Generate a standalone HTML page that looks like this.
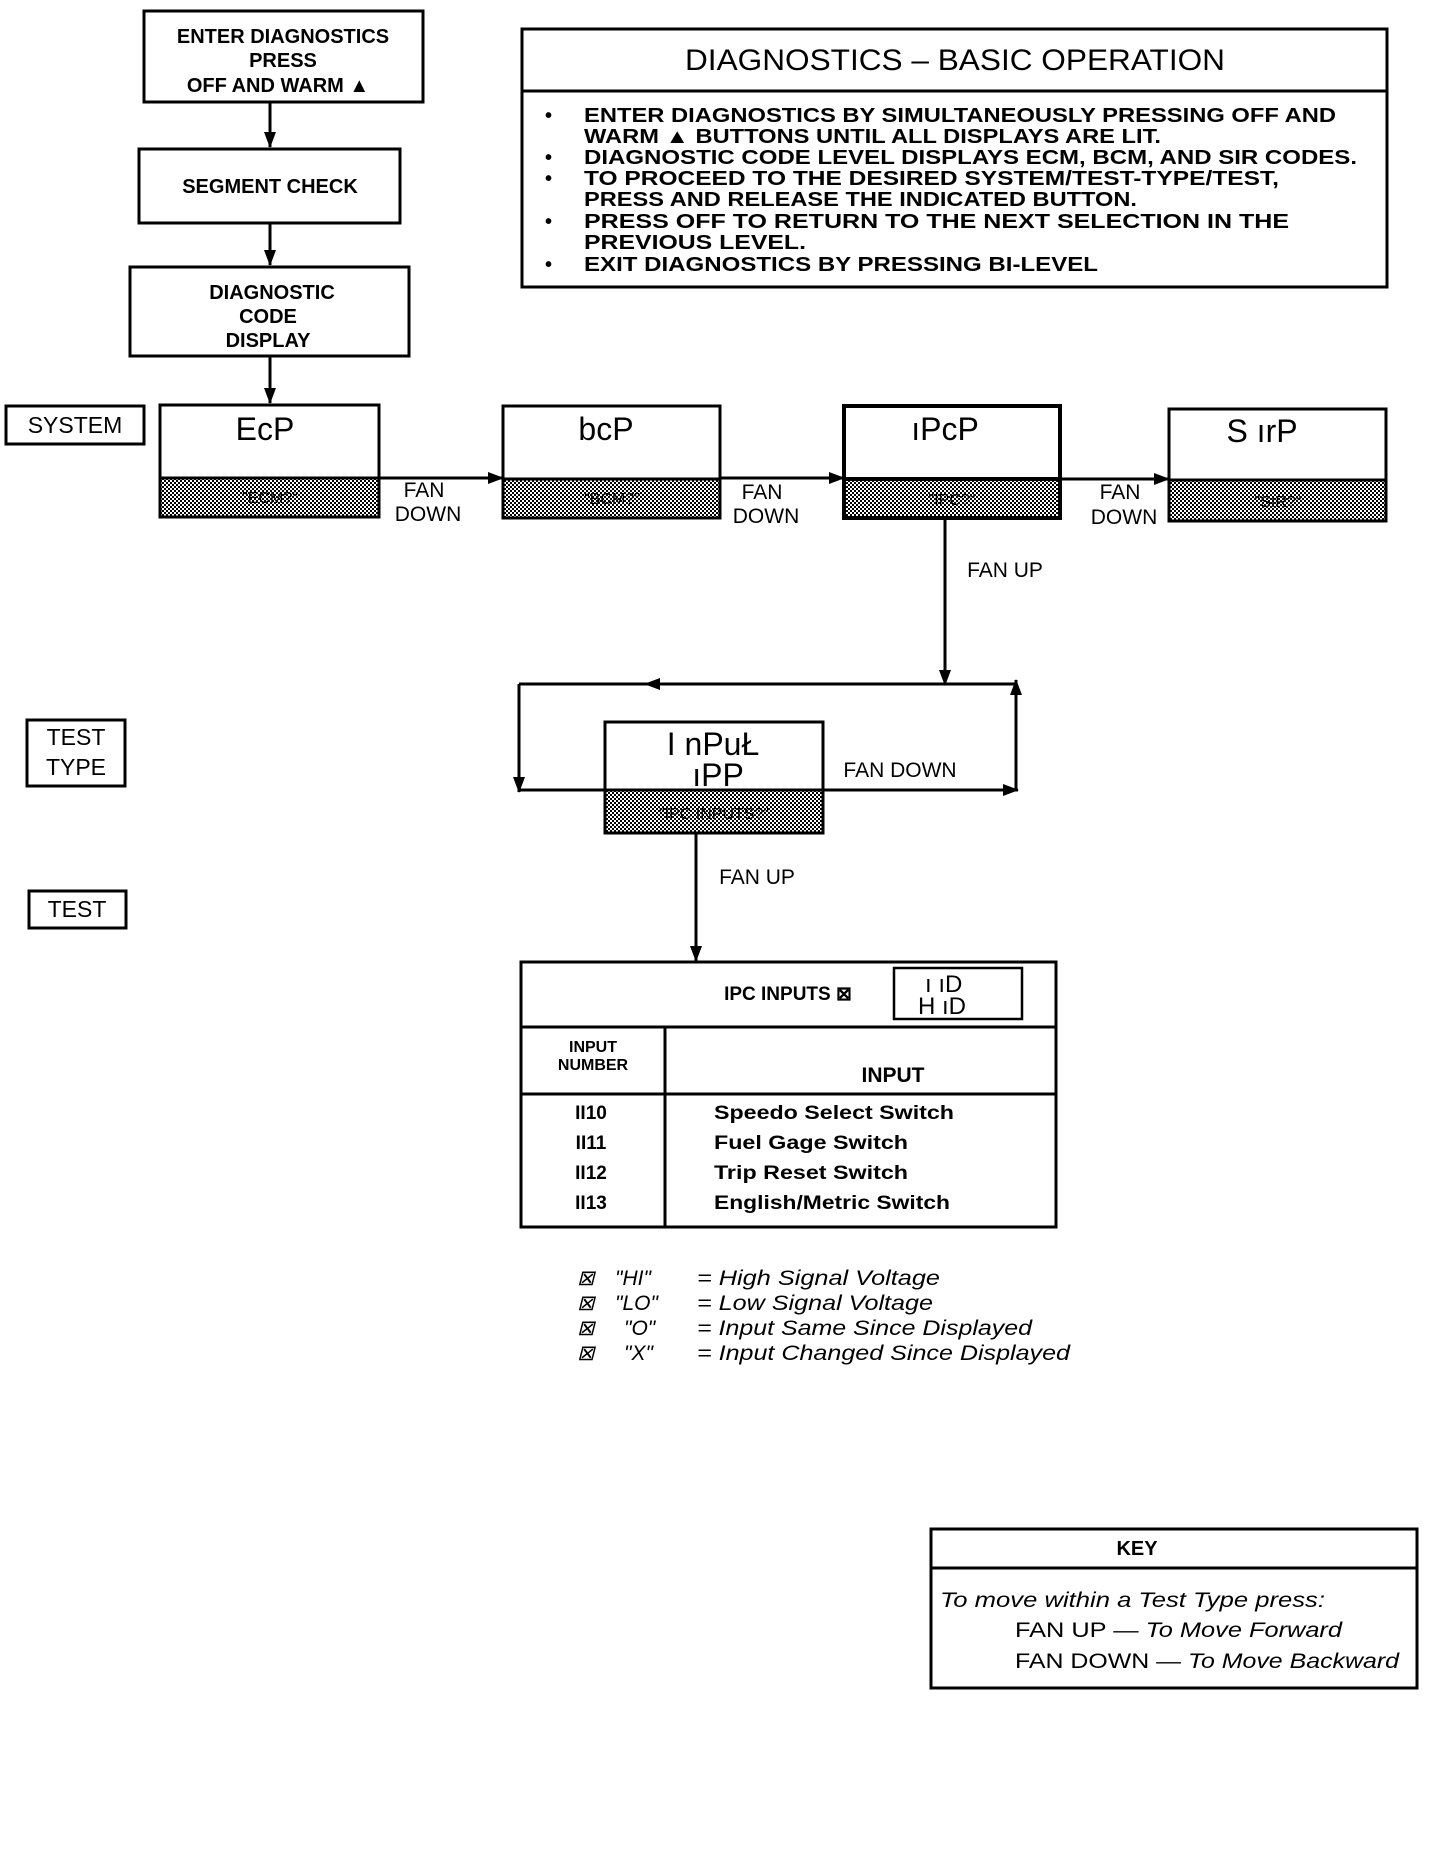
<!DOCTYPE html>
<html><head><meta charset="utf-8"><style>
html,body{margin:0;padding:0;background:#fff;}
svg{display:block;}
text{font-family:"Liberation Sans",sans-serif;fill:#000;}
.b{font-weight:bold;}
</style></head><body>
<svg width="1456" height="1860" viewBox="0 0 1456 1860" xmlns="http://www.w3.org/2000/svg">
<defs>
<pattern id="h" width="4" height="4" patternUnits="userSpaceOnUse">
<rect width="4" height="4" fill="#fff"/>
<rect width="2" height="2" fill="#000"/><rect x="2" y="2" width="2" height="2" fill="#000"/>
</pattern>
<marker id="a" markerWidth="16" markerHeight="12" refX="15" refY="6" orient="auto" markerUnits="userSpaceOnUse">
<path d="M0,0 L16,6 L0,12 z" fill="#000"/></marker>
</defs>
<g fill="none" stroke="#000" stroke-width="3">
<rect x="144" y="11" width="279" height="91"/>
<rect x="139" y="149" width="261" height="74"/>
<rect x="130" y="267" width="279" height="89"/>
<line x1="270" y1="102" x2="270" y2="147" marker-end="url(#a)"/>
<line x1="270" y1="223" x2="270" y2="265" marker-end="url(#a)"/>
<line x1="270" y1="356" x2="270" y2="403" marker-end="url(#a)"/>
<rect x="522" y="29" width="865" height="258"/>
<line x1="522" y1="91" x2="1387" y2="91"/>
<rect x="6" y="406" width="138" height="38"/>
<rect x="160" y="405" width="219" height="112"/>
<rect x="503" y="406" width="217" height="112"/>
<rect x="844" y="406" width="216" height="112" stroke-width="4"/>
<rect x="1169" y="409" width="217" height="112"/>
<line x1="379" y1="478" x2="503" y2="478" marker-end="url(#a)"/>
<line x1="720" y1="478" x2="844" y2="478" marker-end="url(#a)"/>
<line x1="1060" y1="479" x2="1169" y2="479" marker-end="url(#a)"/>
<line x1="945" y1="518" x2="945" y2="685" marker-end="url(#a)"/>
<line x1="1016" y1="684" x2="519" y2="684"/>
<line x1="700" y1="684" x2="645" y2="684" marker-end="url(#a)"/>
<line x1="519" y1="684" x2="519" y2="792" marker-end="url(#a)"/>
<line x1="519" y1="790" x2="1018" y2="790" marker-end="url(#a)"/>
<line x1="1016" y1="790" x2="1016" y2="680" marker-end="url(#a)"/>
<rect x="605" y="722" width="218" height="111"/>
<rect x="27" y="720" width="98" height="66"/>
<rect x="29" y="891" width="97" height="37"/>
<line x1="696" y1="833" x2="696" y2="961" marker-end="url(#a)"/>
<rect x="521" y="962" width="535" height="265"/>
<line x1="521" y1="1027" x2="1056" y2="1027"/>
<line x1="665" y1="1027" x2="665" y2="1227"/>
<line x1="521" y1="1094" x2="1056" y2="1094"/>
<rect x="894" y="968" width="128" height="51" stroke-width="2.5"/>
<rect x="931" y="1529" width="486" height="159"/>
<line x1="931" y1="1568" x2="1417" y2="1568"/>
</g>
<g stroke="#000" stroke-width="3" fill="url(#h)">
<rect x="160" y="478" width="219" height="39"/>
<rect x="503" y="479" width="217" height="39"/>
<rect x="844" y="479" width="216" height="39" stroke-width="4"/>
<rect x="1169" y="480" width="217" height="41"/>
<rect x="605" y="790" width="218" height="43"/>
</g>
<g font-size="16" text-anchor="middle" fill="#333">
<text x="270" y="503">"ECM?"</text><text x="612" y="504">"BCM?"</text>
<text x="952" y="505">"IPC?"</text><text x="1278" y="507">"SIR?"</text>
<text x="714" y="819">"IPC INPUTS?"</text>
</g>
<g class="b" font-size="20" text-anchor="middle">
<text x="283" y="43">ENTER DIAGNOSTICS</text>
<text x="283" y="67">PRESS</text>
<text x="278" y="92">OFF AND WARM ▲</text>
<text x="270" y="193">SEGMENT CHECK</text>
<text x="272" y="299">DIAGNOSTIC</text>
<text x="268" y="323">CODE</text>
<text x="268" y="347">DISPLAY</text>
</g>
<text x="955" y="70" font-size="30" text-anchor="middle" textLength="540" lengthAdjust="spacingAndGlyphs">DIAGNOSTICS – BASIC OPERATION</text>
<g class="b" font-size="20" lengthAdjust="spacingAndGlyphs">
<text x="545" y="122">•</text><text x="584" y="122" textLength="752" lengthAdjust="spacingAndGlyphs">ENTER DIAGNOSTICS BY SIMULTANEOUSLY PRESSING OFF AND</text>
<text x="584" y="143" textLength="577" lengthAdjust="spacingAndGlyphs">WARM ▲ BUTTONS UNTIL ALL DISPLAYS ARE LIT.</text>
<text x="545" y="164">•</text><text x="584" y="164" textLength="773" lengthAdjust="spacingAndGlyphs">DIAGNOSTIC CODE LEVEL DISPLAYS ECM, BCM, AND SIR CODES.</text>
<text x="545" y="185">•</text><text x="584" y="185" textLength="695" lengthAdjust="spacingAndGlyphs">TO PROCEED TO THE DESIRED SYSTEM/TEST-TYPE/TEST,</text>
<text x="584" y="206" textLength="553" lengthAdjust="spacingAndGlyphs">PRESS AND RELEASE THE INDICATED BUTTON.</text>
<text x="545" y="228">•</text><text x="584" y="228" textLength="705" lengthAdjust="spacingAndGlyphs">PRESS OFF TO RETURN TO THE NEXT SELECTION IN THE</text>
<text x="584" y="249" textLength="222" lengthAdjust="spacingAndGlyphs">PREVIOUS LEVEL.</text>
<text x="545" y="271">•</text><text x="584" y="271" textLength="514" lengthAdjust="spacingAndGlyphs">EXIT DIAGNOSTICS BY PRESSING BI-LEVEL</text>
</g>
<g font-size="23" text-anchor="middle">
<text x="75" y="433">SYSTEM</text>
<text x="76" y="745">TEST</text><text x="76" y="775">TYPE</text>
<text x="77" y="917">TEST</text>
</g>
<g font-size="32" text-anchor="middle" font-family="Liberation Sans Narrow, Liberation Sans" font-weight="normal">
<text x="265" y="440">EcP</text><text x="606" y="440">bcP</text>
<text x="945" y="440">ıPcP</text><text x="1262" y="442">S ırP</text>
<text x="713" y="755">I nPuŁ</text><text x="718" y="786">ıPP</text>
</g>
<g font-size="21" text-anchor="middle">
<text x="424" y="497">FAN</text><text x="428" y="521">DOWN</text>
<text x="762" y="499">FAN</text><text x="766" y="523">DOWN</text>
<text x="1120" y="499">FAN</text><text x="1124" y="524">DOWN</text>
<text x="1005" y="577">FAN UP</text>
<text x="900" y="777">FAN DOWN</text>
<text x="757" y="884">FAN UP</text>
</g>
<g class="b" font-size="19">
<text x="788" y="1000" text-anchor="middle">IPC INPUTS ⊠</text>
<text x="593" y="1052" text-anchor="middle" font-size="16">INPUT</text>
<text x="593" y="1070" text-anchor="middle" font-size="16">NUMBER</text>
<text x="893" y="1082" text-anchor="middle" font-size="21">INPUT</text>
<text x="591" y="1119" text-anchor="middle">II10</text>
<text x="591" y="1149" text-anchor="middle">II11</text>
<text x="591" y="1179" text-anchor="middle">II12</text>
<text x="591" y="1209" text-anchor="middle">II13</text>
<text x="714" y="1119" textLength="240" lengthAdjust="spacingAndGlyphs">Speedo Select Switch</text>
<text x="714" y="1149" textLength="194" lengthAdjust="spacingAndGlyphs">Fuel Gage Switch</text>
<text x="714" y="1179" textLength="194" lengthAdjust="spacingAndGlyphs">Trip Reset Switch</text>
<text x="714" y="1209" textLength="236" lengthAdjust="spacingAndGlyphs">English/Metric Switch</text>
</g>
<g font-family="Liberation Mono" font-size="24">
<text x="925" y="992">ı ıD</text><text x="918" y="1014">H ıD</text>
</g>
<g font-size="21" font-style="italic">
<text x="577" y="1285">⊠</text><text x="615" y="1285">"HI"</text><text x="697" y="1285" textLength="243" lengthAdjust="spacingAndGlyphs">= High Signal Voltage</text>
<text x="577" y="1310">⊠</text><text x="615" y="1310">"LO"</text><text x="697" y="1310" textLength="236" lengthAdjust="spacingAndGlyphs">= Low Signal Voltage</text>
<text x="577" y="1335">⊠</text><text x="624" y="1335">"O"</text><text x="697" y="1335" textLength="335" lengthAdjust="spacingAndGlyphs">= Input Same Since Displayed</text>
<text x="577" y="1360">⊠</text><text x="624" y="1360">"X"</text><text x="697" y="1360" textLength="373" lengthAdjust="spacingAndGlyphs">= Input Changed Since Displayed</text>
</g>
<text x="1137" y="1555" class="b" font-size="20" text-anchor="middle">KEY</text>
<g font-size="21">
<text x="940" y="1607" font-style="italic" textLength="385" lengthAdjust="spacingAndGlyphs">To move within a Test Type press:</text>
<text x="1015" y="1637" textLength="327" lengthAdjust="spacingAndGlyphs">FAN UP — <tspan font-style="italic">To Move Forward</tspan></text>
<text x="1015" y="1668" textLength="384" lengthAdjust="spacingAndGlyphs">FAN DOWN — <tspan font-style="italic">To Move Backward</tspan></text>
</g>
</svg>
</body></html>
